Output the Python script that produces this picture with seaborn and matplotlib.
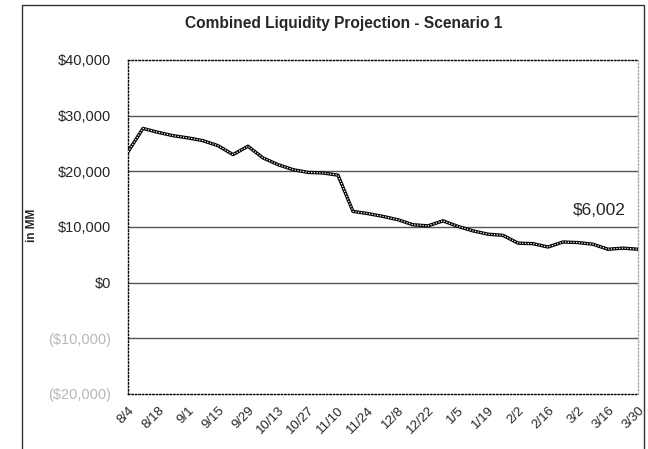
import pandas as pd
import numpy as np
import matplotlib
matplotlib.use('Agg')
import matplotlib.pyplot as plt
import seaborn as sns
from matplotlib.patches import Rectangle

# weekly liquidity, in $MM
weeks = ['8/4', '8/11', '8/18', '8/25', '9/1', '9/8', '9/15', '9/22', '9/29',
         '10/6', '10/13', '10/20', '10/27', '11/3', '11/10', '11/17', '11/24',
         '12/1', '12/8', '12/15', '12/22', '12/29', '1/5', '1/12', '1/19',
         '1/26', '2/2', '2/9', '2/16', '2/23', '3/2', '3/9', '3/16', '3/23', '3/30']
liquidity = [23500, 27700, 27000, 26400, 26000, 25500, 24600, 23000, 24500,
             22400, 21200, 20300, 19800, 19700, 19300, 12800, 12400,
             11900, 11300, 10400, 10200, 11100, 10100, 9300, 8700,
             8500, 7100, 7000, 6400, 7300, 7200, 6900, 6000, 6200, 6002]
y_ticks = [40000, 30000, 20000, 10000, 0, -10000, -20000]
y_labels = ['$40,000', '$30,000', '$20,000', '$10,000', '$0', '($10,000)', '($20,000)']
end_label = '$6,002'

df = pd.DataFrame({'week': np.arange(len(weeks)), 'value': liquidity})

sns.set_style('white')
plt.rcParams['font.family'] = ['Liberation Sans', 'DejaVu Sans']

fig = plt.figure(figsize=(6.48, 4.49), dpi=100)
ax = fig.add_axes([0.1975, 0.1225, 0.787, 0.744])

# grid lines
for v in y_ticks[1:-1]:
    ax.axhline(v, color='#555555', lw=1, zorder=1)

# textured line: black with white dots on top
sns.lineplot(data=df, x='week', y='value', color='black', lw=2.4, ax=ax, zorder=3)
sns.lineplot(data=df, x='week', y='value', color='white', lw=0.9, ax=ax, zorder=4,
             linestyle=(0, (1, 1.2)))

ax.set_xlim(0, len(weeks) - 1)
ax.set_ylim(-20000, 40000)
ax.set_yticks(y_ticks)
ax.set_yticklabels(y_labels, fontsize=10.5)
for lab in ax.get_yticklabels()[-2:]:
    lab.set_color('#b8b8b8')
ax.set_xticks(df['week'][::2])
ax.set_xticklabels(weeks[::2], rotation=45, ha='right', rotation_mode='anchor', fontsize=9.5)
ax.set_xticks(df['week'], minor=True)
ax.tick_params(axis='x', which='major', length=4, color='black', direction='out')
ax.tick_params(axis='x', which='minor', length=2, color='black', direction='out')
ax.tick_params(axis='y', length=4, color='black', direction='out', pad=8)
ax.set_xlabel('')
ax.set_ylabel('in MM', fontsize=8.5, fontweight='bold')
ax.yaxis.set_label_coords(-0.176, 0.505)

for side in ['top', 'left', 'bottom']:
    ax.spines[side].set_linestyle((0, (1, 1.5)))
    ax.spines[side].set_color('black')
    ax.spines[side].set_linewidth(1)
ax.spines['right'].set_linestyle((0, (1, 1.5)))
ax.spines['right'].set_color('#aaaaaa')
ax.spines['right'].set_linewidth(1)

ax.text(33.2, 12900, end_label, fontsize=12.5, ha='right', va='center')

fig.text(0.53, 0.948, 'Combined Liquidity Projection - Scenario 1',
         fontsize=11.2, fontweight='bold', ha='center', va='center')

fig.patches.append(Rectangle((22 / 648, -0.05), 622 / 648, 1.05 - 5 / 449,
                             transform=fig.transFigure, fill=False,
                             edgecolor='#333333', lw=1))

fig.savefig('out.png', dpi=100)
